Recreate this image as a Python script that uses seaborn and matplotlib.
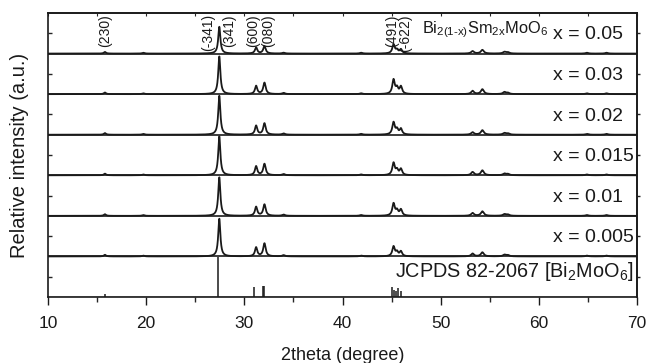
import numpy as np
import pandas as pd
import matplotlib
matplotlib.use("Agg")
import matplotlib.pyplot as plt
import seaborn as sns

# ---------------- data ----------------
samples = ["x = 0.005", "x = 0.01", "x = 0.015", "x = 0.02", "x = 0.03", "x = 0.05"]  # bottom -> top
peak_pos = [15.8, 19.7, 27.45, 31.2, 32.05, 34.0, 41.9, 45.2, 45.55, 45.95, 53.25, 54.25, 56.5, 56.85, 64.9, 66.9]
# peak heights (fraction of one panel) for each sample, same order as samples
peak_h = {
    "x = 0.005": [0.04, 0.02, 0.93, 0.22, 0.32, 0.03, 0.02, 0.24, 0.10, 0.12, 0.07, 0.10, 0.04, 0.03, 0.02, 0.02],
    "x = 0.01":  [0.04, 0.02, 0.95, 0.22, 0.28, 0.03, 0.02, 0.30, 0.12, 0.15, 0.07, 0.11, 0.04, 0.03, 0.02, 0.02],
    "x = 0.015": [0.04, 0.02, 0.96, 0.22, 0.28, 0.03, 0.02, 0.30, 0.12, 0.15, 0.08, 0.12, 0.04, 0.03, 0.02, 0.02],
    "x = 0.02":  [0.04, 0.02, 0.96, 0.22, 0.28, 0.03, 0.02, 0.30, 0.12, 0.14, 0.06, 0.11, 0.04, 0.03, 0.02, 0.02],
    "x = 0.03":  [0.04, 0.02, 0.93, 0.20, 0.28, 0.03, 0.02, 0.35, 0.14, 0.18, 0.08, 0.12, 0.05, 0.03, 0.02, 0.02],
    "x = 0.05":  [0.04, 0.02, 0.66, 0.15, 0.18, 0.02, 0.02, 0.22, 0.08, 0.10, 0.06, 0.09, 0.04, 0.03, 0.02, 0.02],
}
peak_w = [0.13, 0.13, 0.13, 0.14, 0.15, 0.16, 0.16, 0.15, 0.14, 0.15, 0.17, 0.18, 0.18, 0.18, 0.16, 0.16]

# JCPDS 82-2067 reference lines
ref_pos = [15.8, 27.35, 31.0, 31.9, 32.05, 45.05, 45.25, 45.45, 45.7, 45.95]
ref_h   = [0.08, 0.98, 0.25, 0.27, 0.27, 0.25, 0.18, 0.14, 0.22, 0.16]

hkl_labels = ["(230)", "(-341)", "(341)", "(600)", "(080)", "(491)", "(-622)"]
hkl_pos    = [15.8, 26.3, 28.5, 30.9, 32.4, 45.1, 46.4]

# --------------- style ----------------
sns.set_theme(style="ticks")
plt.rcParams["font.family"] = ["Liberation Sans", "DejaVu Sans"]
plt.rcParams["mathtext.fontset"] = "custom"
plt.rcParams["mathtext.rm"] = "Liberation Sans"
plt.rcParams["mathtext.it"] = "Liberation Sans"
plt.rcParams["mathtext.default"] = "regular"

fig = plt.figure(figsize=(6.48, 3.63), dpi=100)
ax = fig.add_axes([48/648, 1-297/363, 589/648, 284/363])

xx = np.linspace(10, 70, 6001)
rows = []
for i, s in enumerate(samples):
    y = np.zeros_like(xx)
    for p, h, w in zip(peak_pos, peak_h[s], peak_w):
        y += h * w**2 / ((xx - p)**2 + w**2)
    rows.append(pd.DataFrame({"two_theta": xx, "I": y + (i + 1), "sample": s}))
df = pd.concat(rows)

for s in samples:
    sub = df[df["sample"] == s]
    sns.lineplot(data=sub, x="two_theta", y="I", ax=ax, color="#1a1a1a",
                 lw=1.3, estimator=None, sort=False)

# reference sticks
ax.vlines(ref_pos, 0, ref_h, color="#1a1a1a", lw=1.1)
ax.axhline(0.004, color="#1a1a1a", lw=1.0)

# panel separators
for k in range(1, 7):
    ax.axhline(k, color="#1a1a1a", lw=1.2)

ax.set_xlim(10, 70)
ax.set_ylim(0, 7)

# labels in panels
for i, s in enumerate(samples):
    ax.text(61.4, i + 1 + 0.35, s, fontsize=14, ha="left", va="baseline", color="#1a1a1a")
ax.text(48.1, 6.49, r"Bi$_{2(1\text{-}x)}$Sm$_{2x}$MoO$_6$", fontsize=11.8,
        ha="left", va="baseline", color="#1a1a1a")
ax.text(69.6, 0.5, r"JCPDS 82-2067 [Bi$_2$MoO$_6$]", fontsize=14.3,
        ha="right", va="baseline", color="#1a1a1a")
for lab, p in zip(hkl_labels, hkl_pos):
    ax.text(p, 6.97, lab, rotation=90, fontsize=10, ha="center", va="top", color="#1a1a1a")

# axes / ticks
ax.set_xticks([10, 20, 30, 40, 50, 60, 70])
ax.set_xticks([15, 25, 35, 45, 55, 65], minor=True)
ax.tick_params(axis="x", which="major", direction="out", length=6, width=1, pad=8,
               labelsize=12.5, colors="#1a1a1a")
ax.tick_params(axis="x", which="minor", direction="out", length=3.5, width=1)
ax.set_yticks([k + 0.5 for k in range(7)])
ax.set_yticklabels([])
ax.tick_params(axis="y", direction="in", length=3, width=1, left=True, right=False)

top = ax.secondary_xaxis("top")
top.set_xticks(np.arange(10, 71, 5))
top.tick_params(direction="in", length=2.5, width=0.8, labeltop=False)
right = ax.secondary_yaxis("right")
right.set_yticks([k + 0.5 for k in range(7)])
right.tick_params(direction="out", length=2.5, width=1, labelright=False)

for sp in ax.spines.values():
    sp.set_linewidth(1.2)
    sp.set_color("#1a1a1a")
    sp.set_visible(True)

ax.set_xlabel("2theta (degree)", fontsize=13, color="#1a1a1a")
ax.xaxis.set_label_coords(0.5, -0.175)
ax.set_ylabel("Relative intensity (a.u.)", fontsize=14.5, color="#1a1a1a")
ax.yaxis.set_label_coords(-0.033, 0.5)

fig.savefig("out.png", dpi=100)
